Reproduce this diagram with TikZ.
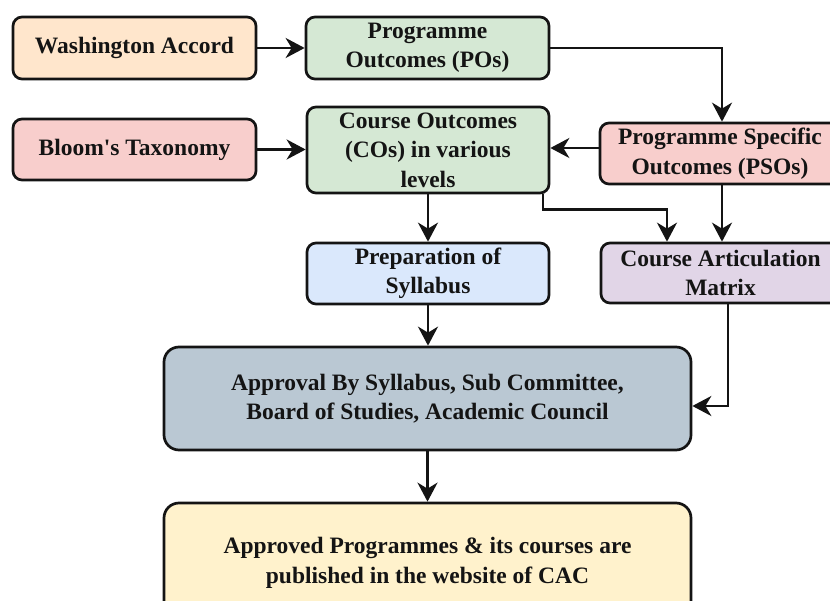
\documentclass[tikz,border=0pt]{standalone}
\usepackage{fontspec}
\newfontfamily\diagfont{Liberation Serif}
\usetikzlibrary{arrows.meta}

\definecolor{fillorange}{HTML}{FFE6CC}
\definecolor{fillgreen}{HTML}{D5E8D4}
\definecolor{fillred}{HTML}{F8CECC}
\definecolor{fillblue}{HTML}{DAE8FC}
\definecolor{fillpurple}{HTML}{E1D5E7}
\definecolor{fillslate}{HTML}{BAC8D3}
\definecolor{fillyellow}{HTML}{FFF2CC}
\definecolor{ink}{HTML}{141414}

\begin{document}
\begin{tikzpicture}[x=1pt,y=-1pt,
  box/.style={draw=ink, line width=2.7pt, rounded corners=9pt, align=center,
    inner sep=0pt, text=ink,
    font=\diagfont\bfseries\fontsize{23.5}{29.5}\selectfont},
  bigbox/.style={box, rounded corners=15pt},
  flow/.style={draw=ink, line width=2.7pt,
    -{Stealth[length=19pt,width=20pt,inset=6pt]}},
]
\useasboundingbox (0,0) rectangle (830,601);
\clip (0,0) rectangle (830,601);

% boxes
\node[box, fill=fillorange, minimum width=243pt, minimum height=62pt] (wa) at (134.5,48) {Washington Accord};
\node[box, fill=fillred, minimum width=243pt, minimum height=61pt] (bt) at (134.5,149.5) {Bloom's Taxonomy};
\node[box, fill=fillgreen, minimum width=243pt, minimum height=62pt] (po) at (427.5,48) {Programme\\Outcomes (POs)};
\node[box, fill=fillgreen, minimum width=242pt, minimum height=86pt] (co) at (428,150) {Course Outcomes\\(COs) in various\\levels};
\node[box, fill=fillred, minimum width=240pt, minimum height=61pt] (pso) at (720,153.5) {Programme Specific\\Outcomes (PSOs)};
\node[box, fill=fillblue, minimum width=242pt, minimum height=61pt] (syl) at (428,273.5) {Preparation of\\Syllabus};
\node[box, fill=fillpurple, minimum width=239pt, minimum height=60pt] (cam) at (720.5,273) {Course Articulation\\Matrix};
\node[bigbox, fill=fillslate, minimum width=527pt, minimum height=103pt] (app) at (427.5,398.5) {Approval By Syllabus, Sub Committee,\\Board of Studies, Academic Council};
\node[bigbox, fill=fillyellow, minimum width=527pt, minimum height=120pt] (fin) at (427.5,563) {Approved Programmes \& its courses are\\published in the website of CAC};

% guide positions for the connectors
\coordinate (psocol) at (722,0);
\coordinate (camcol) at (728,0);
\coordinate (pserow) at (0,148);
\coordinate (approw) at (0,406);
\coordinate (cocol) at (543,0);
\coordinate (linkcol) at (667,0);

% connectors
\draw[flow] (wa.east) -- (po.west);
\draw[flow] (bt.east) -- (bt.east -| co.west);
\draw[flow] (po.east) -| (pso.north -| psocol);
\draw[flow] (pso.west |- pserow) -- (co.east |- pserow);
\draw[flow] (co.south) -- (syl.north);
\draw[flow] (co.south -| cocol) -- ++(0,15) -| (cam.north -| linkcol);
\draw[flow] (pso.south -| psocol) -- (cam.north -| psocol);
\draw[flow] (cam.south -| camcol) |- (app.east |- approw);
\draw[flow] (syl.south) -- (app.north -| syl.south);
\draw[flow] (app.south) -- (fin.north);
\end{tikzpicture}
\end{document}
